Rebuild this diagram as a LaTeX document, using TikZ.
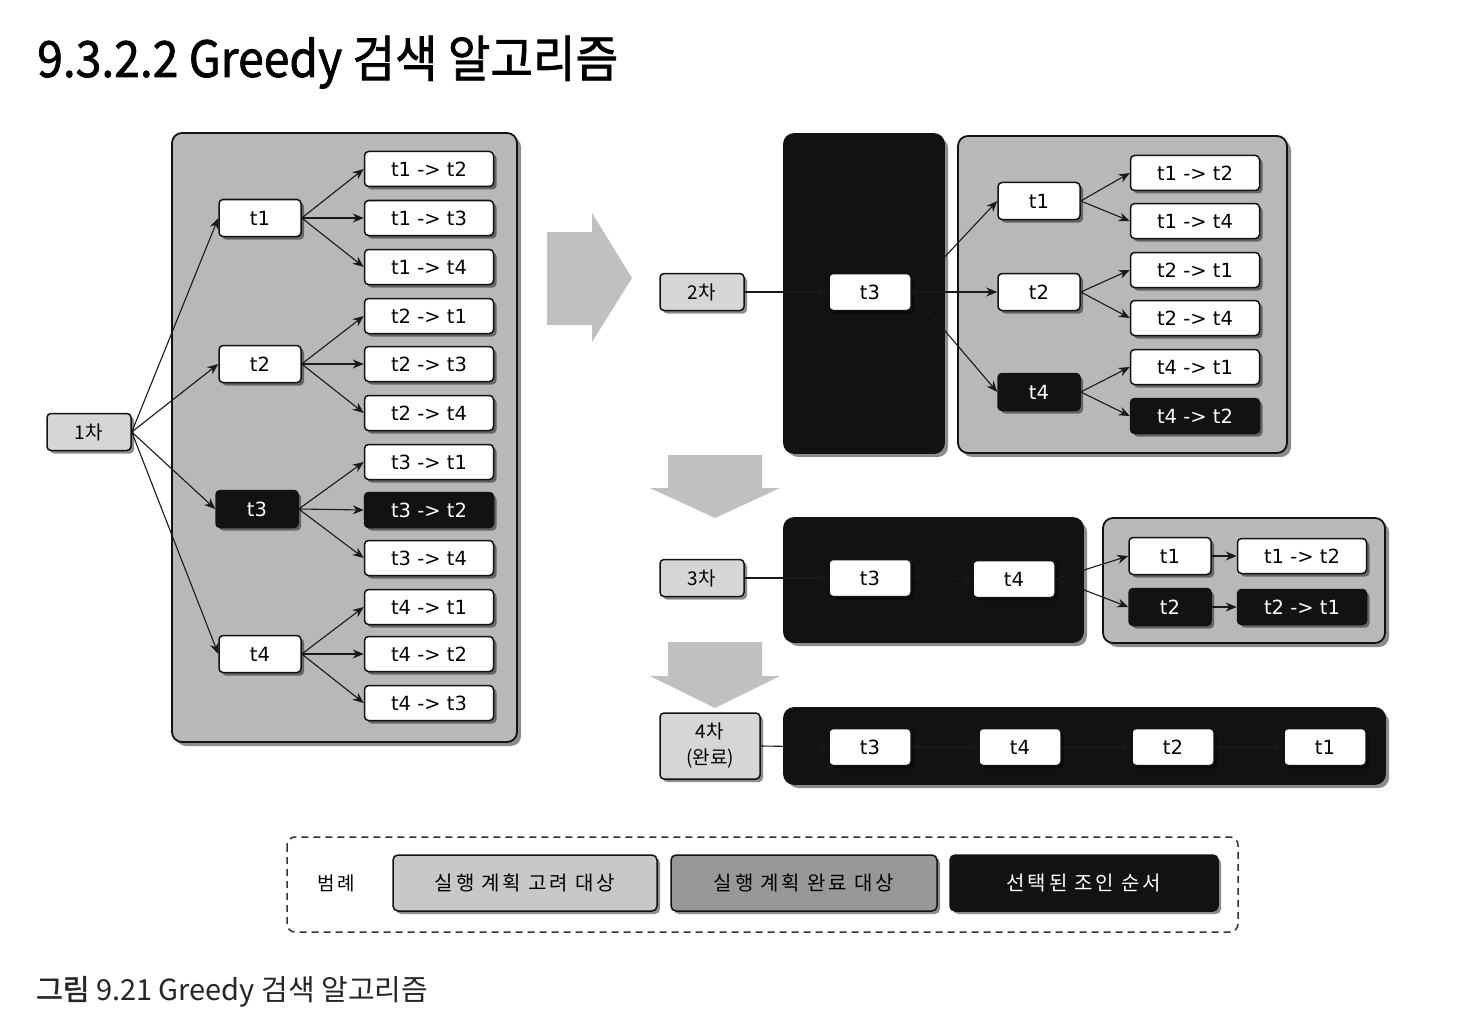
\documentclass[tikz,border=0pt]{standalone}
\usepackage{fontspec}
\setmainfont{DejaVu Sans}
\newfontfamily\kr{Noto Sans CJK KR}
\newfontfamily\krb{Noto Sans CJK KR}[FakeBold=1.5]
\newfontfamily\krsp{Noto Sans CJK KR}[LetterSpace=14]
\usetikzlibrary{shadows,arrows.meta}
\definecolor{panelgray}{RGB}{184,184,184}
\definecolor{lightg}{RGB}{214,214,214}
\definecolor{leg1}{RGB}{200,200,200}
\definecolor{arrowg}{RGB}{192,192,192}
\definecolor{midg}{RGB}{152,152,152}
\definecolor{darkb}{RGB}{18,18,18}
\begin{document}
\begin{tikzpicture}[x=1pt,y=-1pt,
  shad/.style={drop shadow={shadow xshift=3pt, shadow yshift=-3pt, opacity=.45, fill=black}},
  tbox/.style={shad, draw=darkb, line width=1.5pt, fill=white, rounded corners=4pt,
    minimum width=82pt, minimum height=37pt, inner sep=0pt, font=\fontsize{19.5}{19.5}\selectfont},
  bbox/.style={tbox, fill=darkb, text=white},
  pbox/.style={tbox, minimum width=129pt, minimum height=35pt},
  pbbox/.style={pbox, fill=darkb, text=white},
  stage/.style={tbox, fill=lightg, minimum width=84pt, font=\kr\fontsize{19}{26}\selectfont, align=center},
  panel/.style={drop shadow={shadow xshift=4pt, shadow yshift=-4pt, opacity=.45, fill=black},
    draw=darkb, line width=1.8pt, rounded corners=10pt, fill=panelgray},
  bpanel/.style={panel, fill=darkb},
  arr/.style={-{Stealth[length=11pt,width=9pt]}, line width=1.1pt, draw=black!90},
  legbox/.style={shad, draw=darkb, line width=1.5pt, rounded corners=5pt, minimum height=56pt,
    inner sep=0pt, font=\krsp\fontsize{20}{20}\selectfont},
  bigarrow/.style={fill=arrowg}
]
\fill[white] (0,0) rectangle (1484,1030);
\useasboundingbox (0,0) rectangle (1484,1030);

% title
\node[anchor=base west, inner sep=0pt, font=\krb\fontsize{50}{50}\selectfont] (title) at (37,77)
  {\scalebox{0.925}[1]{9.3.2.2 Greedy 검색 알고리즘}};

% panels
\draw[panel] (172,133) rectangle (517,742);
\draw[bpanel] (784,134) rectangle (944,453);
\draw[panel] (958,136) rectangle (1287,453);
\draw[bpanel] (784,518) rectangle (1083,642);
\draw[panel] (1103,518) rectangle (1385,643);
\draw[bpanel] (784,708) rectangle (1385,784);

% big arrows
\fill[bigarrow] (547,232) -- (592,232) -- (592,213) -- (632,278) -- (592,342) -- (592,325) -- (547,325) -- cycle;
\fill[bigarrow] (668,455) -- (762,455) -- (762,488) -- (780,488) -- (715,518) -- (650,488) -- (668,488) -- cycle;
\fill[bigarrow] (668,642) -- (762,642) -- (762,676) -- (780,676) -- (715,708) -- (650,676) -- (668,676) -- cycle;

% ---- 1st stage
\node[stage] (s1) at (89,432) {1차};
\node[tbox] (a1) at (260,218) {t1};
\node[tbox] (a2) at (260,364) {t2};
\node[bbox] (a3) at (257,509) {t3};
\node[tbox] (a4) at (260,654) {t4};
\node[pbox] (a12) at (429,169) {t1 -> t2};
\node[pbox] (a13) at (429,218) {t1 -> t3};
\node[pbox] (a14) at (429,267) {t1 -> t4};
\node[pbox] (a21) at (429,316) {t2 -> t1};
\node[pbox] (a23) at (429,364) {t2 -> t3};
\node[pbox] (a24) at (429,413) {t2 -> t4};
\node[pbox] (a31) at (429,462) {t3 -> t1};
\node[pbbox] (a32) at (429,510) {t3 -> t2};
\node[pbox] (a34) at (429,558) {t3 -> t4};
\node[pbox] (a41) at (429,607) {t4 -> t1};
\node[pbox] (a42) at (429,654) {t4 -> t2};
\node[pbox] (a43) at (429,703) {t4 -> t3};
\foreach \a/\b in {s1/a1,s1/a2,s1/a3,s1/a4,
  a1/a12,a1/a13,a1/a14,a2/a21,a2/a23,a2/a24,a3/a31,a3/a32,a3/a34,a4/a41,a4/a42,a4/a43}
  \draw[arr] (\a.east) -- (\b.west);

% ---- 2nd stage
\node[stage] (s2) at (702,292) {2차};
\node[tbox] (b3) at (870,292) {t3};
\node[tbox] (b1) at (1039,201) {t1};
\node[tbox] (b2) at (1039,292) {t2};
\node[bbox] (b4) at (1039,392) {t4};
\node[pbox] (b12) at (1195,173) {t1 -> t2};
\node[pbox] (b14) at (1195,221) {t1 -> t4};
\node[pbox] (b21) at (1195,270) {t2 -> t1};
\node[pbox] (b24) at (1195,318) {t2 -> t4};
\node[pbox] (b41) at (1195,367) {t4 -> t1};
\node[pbbox] (b42) at (1195,416) {t4 -> t2};
\foreach \a/\b in {s2/b3,b3/b1,b3/b2,b3/b4,b1/b12,b1/b14,b2/b21,b2/b24,b4/b41,b4/b42}
  \draw[arr] (\a.east) -- (\b.west);

% ---- 3rd stage
\node[stage] (s3) at (702,578) {3차};
\node[tbox] (c3) at (870,578) {t3};
\node[tbox] (c4) at (1014,579) {t4};
\node[tbox] (c1) at (1170,556) {t1};
\node[bbox] (c2) at (1170,607) {t2};
\node[pbox] (c12) at (1302,556) {t1 -> t2};
\node[pbbox] (c21) at (1302,607) {t2 -> t1};
\foreach \a/\b in {s3/c3,c3/c4,c4/c1,c4/c2,c1/c12,c2/c21}
  \draw[arr] (\a.east) -- (\b.west);

% ---- 4th stage
\node[stage, minimum width=100pt, minimum height=66pt] (s4) at (710,746) {4차\\(완료)};
\node[tbox] (d3) at (870,747) {t3};
\node[tbox] (d4) at (1020,747) {t4};
\node[tbox] (d2) at (1173,747) {t2};
\node[tbox] (d1) at (1325,747) {t1};
\foreach \a/\b in {s4/d3,d3/d4,d4/d2,d2/d1}
  \draw[arr] (\a.east) -- (\b.west);

% ---- legend
\draw[line width=1.5pt, dash pattern=on 7pt off 5pt, rounded corners=8pt, draw=black!80] (287,837) rectangle (1238,932);
\node[font=\krsp\fontsize{19}{19}\selectfont] (lg) at (336,883) {범례};
\node[legbox, fill=leg1, minimum width=264pt] (lg1) at (525,883) {실행 계획 고려 대상};
\node[legbox, fill=midg, minimum width=266pt] (lg2) at (804,883) {실행 계획 완료 대상};
\node[legbox, fill=darkb, text=white, minimum width=268pt] (lg3) at (1084,883) {선택된 조인 순서};

% caption
\node[anchor=base west, inner sep=0pt, text=black!85, font=\kr\fontsize{29}{29}\selectfont] (cap) at (36,1000)
  {{\krb 그림} 9.21 Greedy 검색 알고리즘};
\end{tikzpicture}
\end{document}
